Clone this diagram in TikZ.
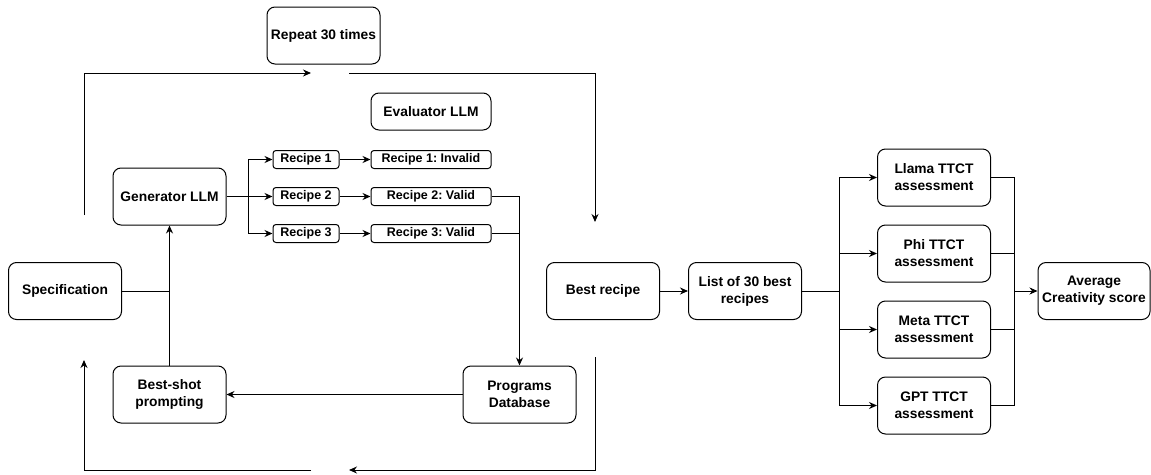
\documentclass[tikz,border=0pt]{standalone}
\usepackage{fontspec}
\setmainfont{Liberation Sans}
\usetikzlibrary{arrows.meta}
\begin{document}
\frenchspacing
\begin{tikzpicture}[x=1pt,y=-1pt,
 box/.style={draw=black, line width=1pt, rounded corners=8pt, align=center, inner sep=0pt,
   minimum width=113pt, minimum height=57pt, font=\fontsize{13.8}{17}\selectfont\bfseries\frenchspacing},
 small/.style={draw=black, line width=1pt, rounded corners=3pt, inner sep=0pt,
   minimum height=18pt, font=\fontsize{12.5}{15}\selectfont\bfseries\frenchspacing},
 conn/.style={line width=1pt},
 arr/.style={conn, -{Stealth[length=8pt,width=7pt]}}]
\useasboundingbox (0,0) rectangle (1151,474);

% nodes
\node[box] (rep) at (323.5,35.5) {Repeat 30 times};
\node[box, minimum width=120pt, minimum height=37pt] (eval) at (431,111.5) {Evaluator LLM};
\node[box] (gen) at (169.5,196.5) {Generator LLM};
\node[small, minimum width=66pt] (r1) at (306,159.5) {Recipe 1};
\node[small, minimum width=66pt] (r2) at (306,196.5) {Recipe 2};
\node[small, minimum width=66pt] (r3) at (306,233.5) {Recipe 3};
\node[small, minimum width=120pt] (v1) at (431,159.5) {Recipe 1: Invalid};
\node[small, minimum width=120pt] (v2) at (431,196.5) {Recipe 2: Valid};
\node[small, minimum width=120pt] (v3) at (431,233.5) {Recipe 3: Valid};
\node[box] (spec) at (65,291) {Specification};
\node[box] (bsp) at (169.5,394.5) {Best-shot\\prompting};
\node[box] (pdb) at (519.5,394.5) {Programs\\Database};
\node[box] (best) at (603,291) {Best recipe};
\node[box] (list) at (745,291) {List of 30 best\\recipes};
\node[box] (a1) at (934,177.5) {Llama TTCT\\assessment};
\node[box] (a2) at (934,253.5) {Phi TTCT\\assessment};
\node[box] (a3) at (934,329.5) {Meta TTCT\\assessment};
\node[box] (a4) at (934,405.5) {GPT TTCT\\assessment};
\node[box, minimum width=112pt] (avg) at (1094,291) {Average\\Creativity score};

% loop coordinates
\coordinate (tl0) at (84,215);
\coordinate (tl1) at (311,73);
\coordinate (tr0) at (349,73);
\coordinate (tr1) at (595,222);
\coordinate (br0) at (595,357);
\coordinate (br1) at (349,470);
\coordinate (bl0) at (311,470);
\coordinate (bl1) at (84,360);
\draw[arr] (tl0) |- (tl1);
\draw[arr] (tr0) -| (tr1);
\draw[arr] (br0) |- (br1);
\draw[arr] (bl0) -| (bl1);

% left part
\coordinate (j1) at (169.5,291);
\draw[conn] (spec.east) -- (j1);
\draw[arr] (bsp.north) -- (gen.south);
\coordinate (gb) at (248,196.5);
\draw[conn] (gen.east) -- (gb);
\draw[arr] (gb) |- (r1.west);
\draw[arr] (gb) -- (r2.west);
\draw[arr] (gb) |- (r3.west);
\draw[arr] (r1) -- (v1);
\draw[arr] (r2) -- (v2);
\draw[arr] (r3) -- (v3);
\draw[arr] (v2.east) -| (pdb.north);
\draw[conn] (v3.east) -- (v3.east -| pdb.north);
\draw[arr] (pdb.west) -- (bsp.east);

% right part
\draw[arr] (best) -- (list);
\coordinate (lb) at (839,291);
\coordinate (mb) at (1014,291);
\draw[conn] (list.east) -- (lb);
\foreach \a in {a1,a2,a3,a4} {
  \draw[arr] (lb) |- (\a.west);
  \draw[conn] (\a.east) -| (mb);
}
\draw[arr] (mb) -- (avg.west);
\end{tikzpicture}
\end{document}
